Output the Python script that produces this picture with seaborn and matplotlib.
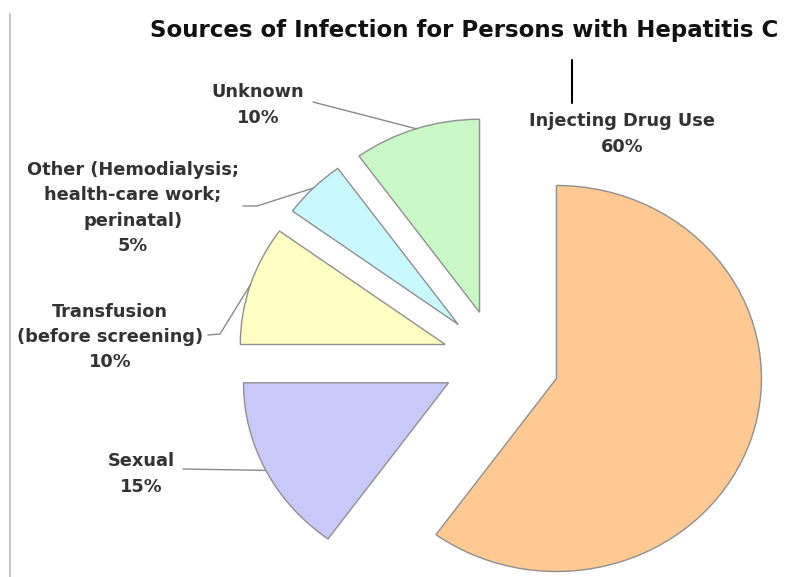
import matplotlib
matplotlib.use("Agg")
import matplotlib.pyplot as plt
import seaborn as sns
import numpy as np
from matplotlib.lines import Line2D
from matplotlib.transforms import IdentityTransform

# data
sources = ["Injecting Drug Use", "Sexual", "Transfusion\n(before screening)",
           "Other (Hemodialysis;\nhealth-care work;\nperinatal)", "Unknown"]
percents = [60, 15, 10, 5, 10]
colors = ["#FFC994", "#C9C9F9", "#FFFFC4", "#C9F8FF", "#C9F8C6"]
explode = [0.31, 0.26, 0.26, 0.26, 0.26]

sns.set_theme(style="white")
plt.rcParams['font.family'] = ['DejaVu Sans']

W, H = 794, 577
fig = plt.figure(figsize=(W / 100, H / 100), dpi=100)
ax = fig.add_axes([0, 0, 1, 1])

wedges, _ = ax.pie(percents, colors=colors, explode=explode, startangle=90,
                   counterclock=False, radius=1,
                   wedgeprops=dict(edgecolor="#8f8f8f", linewidth=1.0))

# pie centre and scale in pixels (the picture is a bit wider than tall)
cx, cy = 496, 360
sx, sy = 205, 193
ax.set_xlim(-cx / sx, (W - cx) / sx)
ax.set_ylim(-(H - cy) / sy, cy / sy)
ax.set_aspect('auto')
ax.axis('off')


def img_px(x, y):
    # image coords (top-left origin) -> display pixels
    return x, H - y


def mid_arc(w):
    t = np.deg2rad((w.theta1 + w.theta2) / 2)
    p = (w.center[0] + w.r * np.cos(t), w.center[1] + w.r * np.sin(t))
    return ax.transData.transform(p)


def leader(points, color="#8a8a8a", lw=1.0):
    xs = [p[0] for p in points]
    ys = [p[1] for p in points]
    fig.add_artist(Line2D(xs, ys, transform=IdentityTransform(), color=color, lw=lw))


lab_style = dict(ha="center", va="center", multialignment="center",
                 fontsize=12.8, fontweight="bold", color="#333333", linespacing=1.52)

pcts = [f"{p}%" for p in percents]

# label centres (image px)
label_pos = [(622, 134), (141, 474), (110, 337), (133, 208), (258, 105)]
for name, pct, (lx, ly) in zip(sources, pcts, label_pos):
    fig.text(lx / W, 1 - ly / H, f"{name}\n{pct}", **lab_style)

# leader lines to the middle of each outer arc
fig.canvas.draw()
leader([img_px(183, 469), mid_arc(wedges[1])])
leader([img_px(208, 335), img_px(220, 334), mid_arc(wedges[2])])
leader([img_px(243, 206), img_px(257, 206), mid_arc(wedges[3])])
leader([img_px(313, 102), mid_arc(wedges[4])])
leader([img_px(572, 60), img_px(572, 103)], color="black", lw=1.5)

# slide border on the left
leader([img_px(10, 14), img_px(10, 577)], color="#c8c8c8", lw=1.5)

fig.text(464 / W, 1 - 31 / H, "Sources of Infection for Persons with Hepatitis C",
         ha="center", va="center", fontsize=16.5, fontweight="bold",
         color="#111111")

fig.savefig("out.png", dpi=100)
